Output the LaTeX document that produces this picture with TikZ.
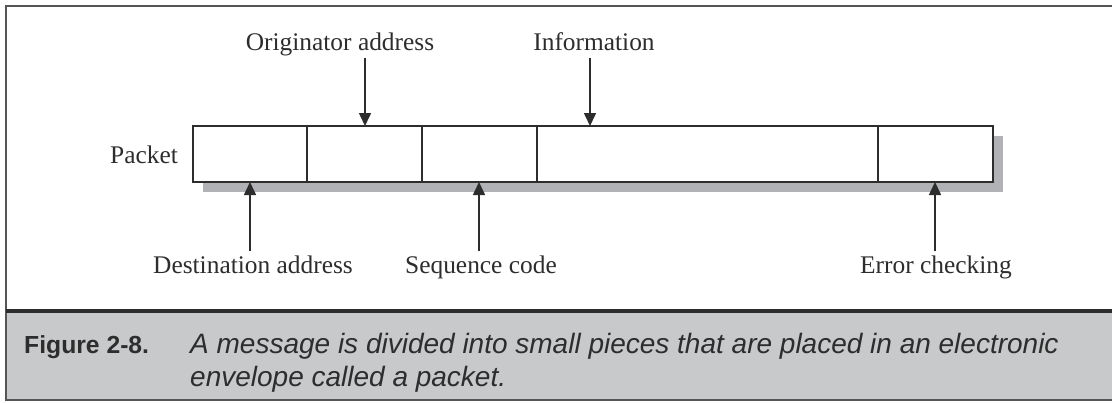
\documentclass[tikz,border=0pt]{standalone}
\usepackage{fontspec}
\setmainfont{Liberation Serif}
\newfontfamily\capfont{Liberation Sans}
\usetikzlibrary{arrows.meta}
\definecolor{framegray}{RGB}{85,85,85}
\definecolor{shadowgray}{RGB}{177,178,182}
\definecolor{capgray}{RGB}{200,201,203}
\definecolor{inkgray}{RGB}{45,45,45}
\tikzset{
  cell/.style={draw=inkgray, line width=1.6pt, fill=white, minimum height=56pt, inner sep=0pt, outer sep=0pt},
  lbl/.style={font=\fontsize{25.4}{30}\selectfont, text=inkgray, inner sep=0pt, anchor=base},
  pointer/.style={draw=inkgray, line width=1.6pt, -{Triangle[length=13pt, width=12pt]}},
  captext/.style={font=\capfont\fontsize{28}{33}\selectfont, text=inkgray, inner sep=0pt, anchor=base west}
}
\begin{document}
\begin{tikzpicture}[x=1pt, y=-1pt]
  \useasboundingbox (0,0) rectangle (1112,402);
  % caption band
  \fill[capgray] (6,312) rectangle (1112,400);
  % outer frame: top, left, bottom, separator
  \draw[framegray, line width=2pt] (1112,6) -- (6,6) -- (6,400) -- (1112,400);
  \draw[inkgray, line width=4pt] (6,311) -- (1112,311);

  % drop shadow under the packet
  \fill[shadowgray] (203,136) rectangle (1003,192);

  % packet cells
  \node[cell, minimum width=114pt] (dest) at (250,154) {};
  \node[cell, minimum width=115pt] (orig) at (364.5,154) {};
  \node[cell, minimum width=115pt] (seq)  at (479.5,154) {};
  \node[cell, minimum width=341pt] (info) at (707.5,154) {};
  \node[cell, minimum width=115pt] (err)  at (935.5,154) {};

  \node[lbl] (packet) at (144,163) {Packet};

  % labels above, pointing down
  \node[lbl] (origlbl) at (340,50) {Originator address};
  \node[lbl] (infolbl) at (594,50) {Information};
  \coordinate (origtop) at (365,58);
  \coordinate (infotop) at (590,58);
  \draw[pointer] (origtop) -- (origtop |- orig.north);
  \draw[pointer] (infotop) -- (infotop |- info.north);

  % labels below, pointing up
  \node[lbl] (destlbl) at (253,273) {Destination address};
  \node[lbl] (seqlbl)  at (481,273) {Sequence code};
  \node[lbl] (errlbl)  at (936,273) {Error checking};
  \coordinate (destbot) at (250,251);
  \coordinate (seqbot)  at (479,251);
  \coordinate (errbot)  at (935,251);
  \draw[pointer] (destbot) -- (destbot |- dest.south);
  \draw[pointer] (seqbot)  -- (seqbot |- seq.south);
  \draw[pointer] (errbot)  -- (errbot |- err.south);

  % caption
  \node[captext, font=\capfont\bfseries\fontsize{24.7}{33}\selectfont] (capnum) at (24,353) {Figure 2-8.};
  \node[captext] (cap1) at (190,353) {\itshape A message is divided into small pieces that are placed in an electronic};
  \node[captext] (cap2) at (190,386) {\itshape envelope called a packet.};
\end{tikzpicture}
\end{document}
